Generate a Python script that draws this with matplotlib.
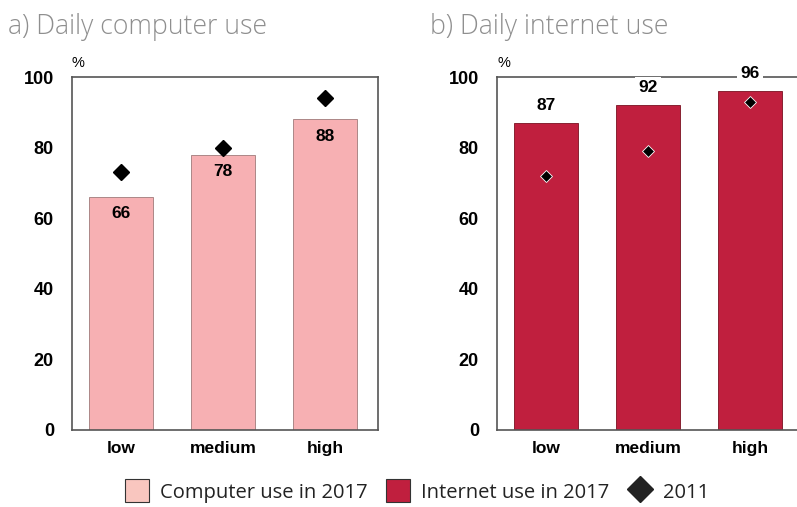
#!/usr/bin/env python3
"""Daily computer and internet use by level, 2017 vs 2011."""

import matplotlib
matplotlib.use("Agg")
import matplotlib.pyplot as plt
from matplotlib.lines import Line2D
from matplotlib.patches import Patch

levels = ["low", "medium", "high"]
computer_2017 = [66, 78, 88]
computer_2011 = [73, 80, 94]
internet_2017 = [87, 92, 96]
internet_2011 = [72, 79, 93]

PINK = "#f7b0b3"
PINK_LEGEND = "#f9c6bf"
RED = "#c01f3e"
TITLE_GREY = "#8f8f8f"

plt.rcParams.update({"font.family": ["Liberation Sans Narrow", "Liberation Sans", "DejaVu Sans"]})

W, H = 797, 507
fig = plt.figure(figsize=(W / 100, H / 100), dpi=100)


def box(x0, x1, y_top, y_bot):
    return [x0 / W, 1 - y_bot / H, (x1 - x0) / W, (y_bot - y_top) / H]


ax1 = fig.add_axes(box(72, 378, 77, 430))
ax2 = fig.add_axes(box(497, 803, 77, 430))


def style(ax):
    ax.set_xlim(-0.48, 2.52)
    ax.set_ylim(0, 100)
    ax.set_yticks(range(0, 101, 20))
    ax.set_xticks(range(len(levels)))
    ax.set_xticklabels(levels)
    ax.tick_params(length=0, labelsize=13, pad=13)
    ax.tick_params(axis="x", pad=8, labelsize=12.5)
    for lab in ax.get_xticklabels() + ax.get_yticklabels():
        lab.set_fontweight("bold")
    for sp in ax.spines.values():
        sp.set_color("#555555")
        sp.set_linewidth(1.2)
    ax.text(0.0, 1.02, "%", transform=ax.transAxes, fontsize=10.5, ha="left", va="bottom")


x = range(len(levels))

style(ax1)
ax1.bar(x, computer_2017, width=0.62, color=PINK, edgecolor="#a07a7a", linewidth=0.6)
ax1.plot(x, computer_2011, "D", color="black", markersize=8, linestyle="none")
for i, v in enumerate(computer_2017):
    ax1.text(i, v - 4.8, str(v), ha="center", va="center", fontsize=12.5, fontweight="bold")

style(ax2)
ax2.bar(x, internet_2017, width=0.62, color=RED, edgecolor="#7a1020", linewidth=0.6)
ax2.plot(x, internet_2011, "D", color="black", markersize=6, markeredgecolor="white",
         markeredgewidth=0.6, linestyle="none")
for i, v in enumerate(internet_2017):
    ax2.text(i, v + 4.9, str(v), ha="center", va="center", fontsize=12.5, fontweight="bold",
             bbox=dict(facecolor="white", edgecolor="none", pad=2.5), zorder=5, clip_on=False)

fig.text(8 / W, 1 - 27 / H, "a) Daily computer use", fontsize=19.2, color=TITLE_GREY,
         family=["Open Sans", "DejaVu Sans"], fontweight="light", va="center")
fig.text(430 / W, 1 - 27 / H, "b) Daily internet use", fontsize=19.2, color=TITLE_GREY,
         family=["Open Sans", "DejaVu Sans"], fontweight="light", va="center")

handles = [
    Patch(facecolor=PINK_LEGEND, edgecolor="#333333", linewidth=0.8, label="Computer use in 2017"),
    Patch(facecolor=RED, edgecolor="#333333", linewidth=0.8, label="Internet use in 2017"),
    Line2D([], [], marker="D", color="#222222", linestyle="none", markersize=13, label="2011"),
]
fig.legend(handles=handles, loc="center", bbox_to_anchor=(417 / W, 1 - 491 / H), ncol=3,
           frameon=False, prop={"family": ["Open Sans", "DejaVu Sans"], "size": 14.5},
           handlelength=1.2, handleheight=1.35, handletextpad=0.55, columnspacing=0.9,
           labelcolor="#222222")

fig.savefig("out.png", dpi=100, facecolor="white")
